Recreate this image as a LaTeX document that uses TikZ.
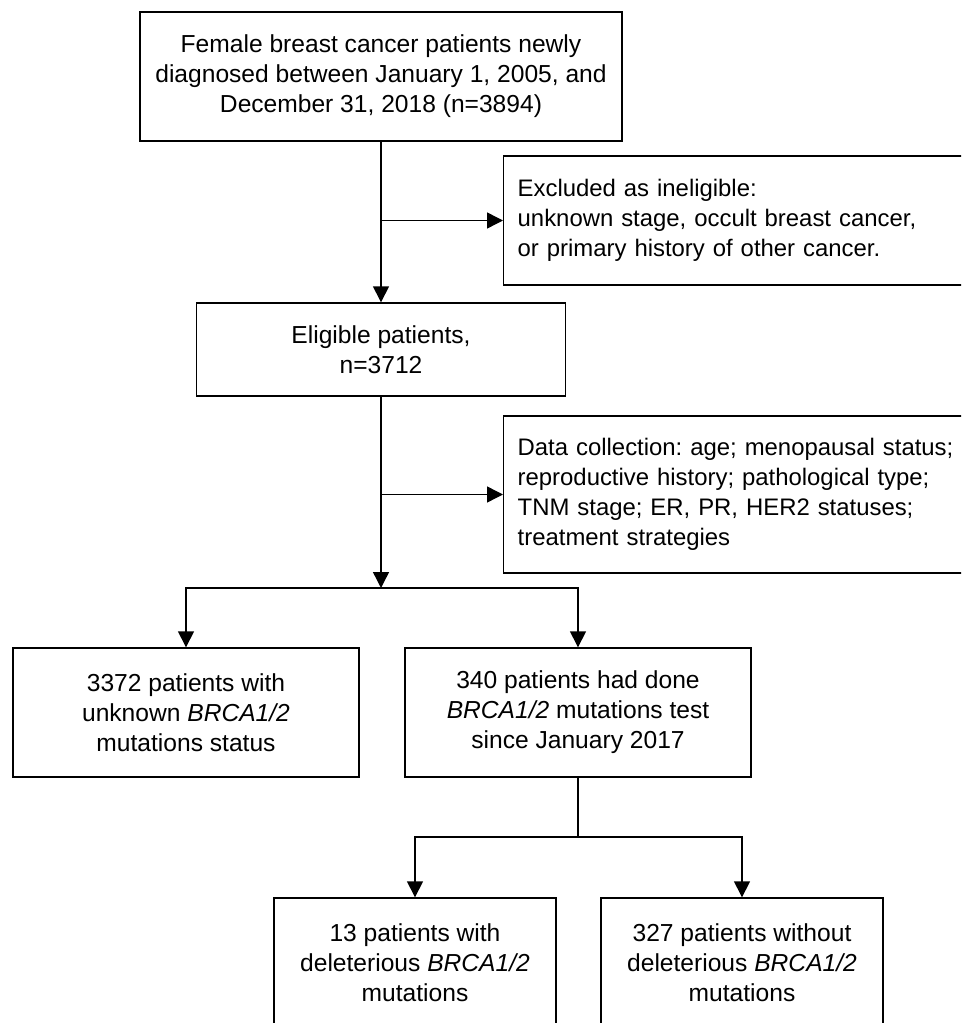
\documentclass[tikz,border=0pt]{standalone}
\usepackage{fontspec}
\setmainfont{Liberation Sans}
\usepackage{tikz}
\usetikzlibrary{positioning, arrows.meta}
\frenchspacing

\begin{document}
\begin{tikzpicture}[x=0.02cm, y=-0.02cm,
    box/.style={draw=black, line width=0.8pt, inner sep=0pt, align=center,
        font=\fontsize{14}{17}\selectfont},
    sidebox/.style={draw=black, line width=0.8pt, inner xsep=0.28cm, inner ysep=0pt,
        align=left, text width=9.6cm, anchor=west,
        font=\fontsize{13.6}{17}\selectfont},
    link/.style={line width=0.8pt},
    arr/.style={line width=0.8pt, -{Triangle[width=0.32cm, length=0.32cm]}}]
            \useasboundingbox (0, 0) rectangle (961, 1023);
            \clip (0, 0) rectangle (961, 1023);

            \node[box, minimum width=9.64cm, minimum height=2.58cm] (start) at (381, 76.5) {Female breast cancer patients newly\\ diagnosed between January 1, 2005, and\\ December 31, 2018 (n=3894)};
            \node[sidebox, minimum height=2.58cm] (excl) at (503, 220.5) {Excluded as ineligible:\\ unknown stage, occult breast cancer,\\ or primary history of other cancer.};
            \node[box, minimum width=7.38cm, minimum height=1.86cm] (elig) at (381, 349.5) {Eligible patients,\\ n=3712};
            \node[sidebox, minimum height=3.14cm] (data) at (503, 494.5) {Data collection: age; menopausal status;\\ reproductive history; pathological type;\\ TNM stage; ER, PR, HER2 statuses;\\ treatment strategies};
            \node[box, minimum width=6.92cm, minimum height=2.58cm] (unknown) at (186, 712.5) {3372 patients with\\ unknown \textit{BRCA1/2}\\ mutations status};
            \node[box, minimum width=6.92cm, minimum height=2.58cm] (tested) at (578, 712.5) {340 patients had done\\ \textit{BRCA1/2} mutations test\\ since January 2017};
            \node[box, minimum width=5.64cm, minimum height=2.58cm] (delet) at (415, 962.5) {13 patients with\\ deleterious \textit{BRCA1/2}\\ mutations};
            \node[box, minimum width=5.64cm, minimum height=2.58cm] (nodel) at (742, 962.5) {327 patients without\\ deleterious \textit{BRCA1/2}\\ mutations};

            \coordinate (fork1) at (381, 588);
            \coordinate (fork2) at (578, 837);

            \draw[arr] (start) -- (elig);
            \draw[arr] (start.south |- excl.west) -- (excl.west);
            \draw[arr] (elig) -- (fork1);
            \draw[arr] (elig.south |- data.west) -- (data.west);
            \draw[arr] (fork1) -| (unknown.north);
            \draw[arr] (fork1) -| (tested.north);
            \draw[link] (tested) -- (fork2);
            \draw[arr] (fork2) -| (delet.north);
            \draw[arr] (fork2) -| (nodel.north);
        \end{tikzpicture}
\end{document}
